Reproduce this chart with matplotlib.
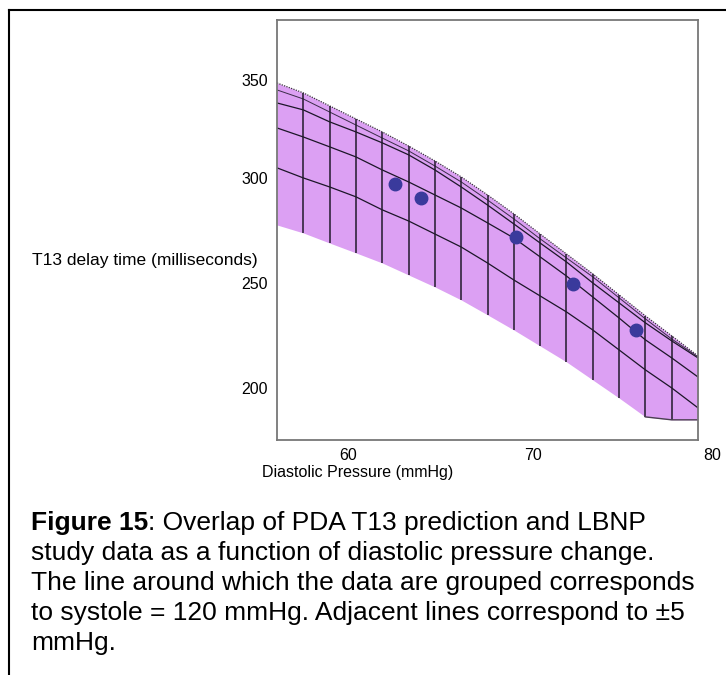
import matplotlib

matplotlib.use("Agg")
import matplotlib.pyplot as plt
import matplotlib.transforms as mtransforms
from matplotlib.lines import Line2D

plt.rcParams["font.family"] = ["Liberation Sans", "DejaVu Sans"]

W, H = 726, 675

# diastolic mesh positions (mmHg): the surface mesh cuts the range into 16 strips
diastolic = [56.0, 57.5, 59.0, 60.5, 62.0, 63.5, 65.0, 66.5, 68.0,
             69.5, 71.0, 72.5, 74.0, 75.5, 77.0, 78.5, 80.0]

# predicted T13 band (ms) at each mesh position
band_upper = [345.2, 340.5, 334.3, 328.1, 321.9, 315.2, 308.1, 300.5, 291.9,
              282.9, 273.3, 263.8, 254.3, 244.3, 234.3, 224.8, 215.2]
band_lower = [277.6, 273.8, 269.0, 264.3, 259.5, 253.8, 248.1, 241.9, 234.8,
              227.6, 220.0, 212.4, 203.8, 195.2, 186.2, 184.8, 184.8]

# systole mesh curves (ms)
systole_a = [341.9, 337.6, 331.4, 325.2, 319.0, 312.9, 305.7, 298.1, 289.5,
             280.5, 271.0, 261.9, 252.9, 242.9, 232.9, 223.3, 214.8]
systole_b = [335.7, 332.4, 326.7, 321.9, 316.7, 311.0, 303.8, 295.7, 287.1,
             278.1, 269.0, 260.0, 250.0, 240.5, 231.0, 222.4, 214.3]
systole_120 = [323.8, 319.5, 314.8, 310.0, 303.8, 298.1, 291.9, 285.7, 278.6,
               271.4, 262.4, 253.3, 243.3, 233.3, 222.9, 214.3, 205.2]
systole_d = [304.8, 300.0, 295.7, 291.0, 284.8, 279.5, 273.3, 267.1, 259.5,
             251.4, 243.8, 236.2, 227.6, 218.1, 208.6, 200.0, 190.5]

# LBNP study data
lbnp_diastolic = [62.73, 64.21, 69.62, 72.87, 76.47]
lbnp_t13 = [297.1, 290.5, 271.9, 249.5, 227.6]

x_ticks = [60, 70, 80]
y_ticks = [200, 250, 300, 350]

caption_bold = "Figure 15"
caption_lines = [
    ": Overlap of PDA T13 prediction and LBNP",
    "study data as a function of diastolic pressure change.",
    "The line around which the data are grouped corresponds",
    "to systole = 120 mmHg. Adjacent lines correspond to \u00b15",
    "mmHg.",
]

fig = plt.figure(figsize=(W / 100, H / 100), dpi=100)
ax = fig.add_axes([277 / W, 1 - 440 / H, 421 / W, 420 / H])

ax.fill_between(diastolic, band_lower, band_upper, color="#dca0f3", lw=0, zorder=1)
for curve in (systole_b, systole_120, systole_d):
    ax.plot(diastolic, curve, color="#1c1628", lw=0.9, zorder=2)
ax.plot(diastolic, systole_a, color="#3a2c48", lw=0.7, zorder=2)
ax.plot(diastolic, band_upper, color="#3a3040", lw=0.9, ls=(0, (1, 1)), zorder=2)
ax.vlines(diastolic[1:-1], band_lower[1:-1], band_upper[1:-1],
          color="#221a2c", lw=1.1, zorder=2)
ax.plot(diastolic[-3:], band_lower[-3:], color="#4a4050", lw=1.0, zorder=2)

ax.plot(lbnp_diastolic, lbnp_t13, "o", ms=9, color="#3a3a9c", mec="#3a3a9c", zorder=3)

ax.set_xlim(56, 80)
ax.set_ylim(175.2, 375.2)
ax.set_xticks(x_ticks)
ax.set_yticks(y_ticks)
ax.tick_params(length=0, labelsize=11.5, colors="black")
ax.tick_params(axis="y", pad=6.5)
ax.tick_params(axis="x", pad=6)
for spine in ax.spines.values():
    spine.set_color("#777777")
    spine.set_linewidth(1.3)

# nudge tick labels to where the original rendering put them
for label, dx in zip(ax.get_xticklabels(), [1, 10, 14]):
    label.set_transform(label.get_transform()
                        + mtransforms.ScaledTranslation(dx / 100, 0, fig.dpi_scale_trans))
for label, dy in zip(ax.get_yticklabels(), [0, 0, 0, -7]):
    label.set_transform(label.get_transform()
                        + mtransforms.ScaledTranslation(0, dy / 100, fig.dpi_scale_trans))

fig.text(258 / W, 1 - 260 / H, "T13 delay time (milliseconds)",
         ha="right", va="center", fontsize=12.5)
fig.text(358 / W, 1 - 472 / H, "Diastolic Pressure (mmHg)",
         ha="center", va="center", fontsize=11.5)

# caption below the chart
x0 = 31 / W
y_first = 523
step = 30
first = fig.text(x0, 1 - y_first / H, caption_bold, weight="bold",
                 ha="left", va="center", fontsize=19)
renderer = fig.canvas.get_renderer()
bb = first.get_window_extent(renderer=renderer)
for i, line in enumerate(caption_lines):
    x = bb.x1 / fig.bbox.width if i == 0 else x0
    fig.text(x, 1 - (y_first + i * step) / H, line,
             ha="left", va="center", fontsize=19)

# frame around figure + caption
fig.add_artist(Line2D([9 / W, 9 / W], [1 - 10 / H, 0], transform=fig.transFigure,
                      color="black", lw=1.5))
fig.add_artist(Line2D([9 / W, 1], [1 - 10 / H, 1 - 10 / H], transform=fig.transFigure,
                      color="black", lw=1.5))

fig.savefig("out.png", dpi=100)
